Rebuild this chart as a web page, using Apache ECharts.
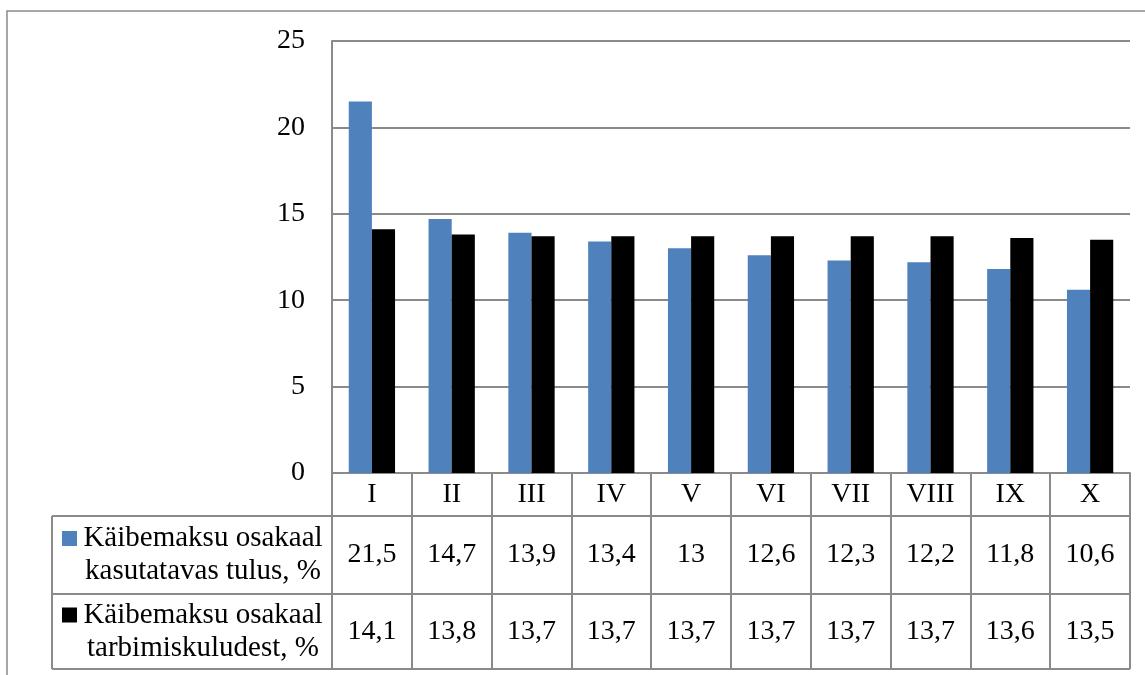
<!DOCTYPE html>
<html>
<head>
<meta charset="utf-8">
<script src="https://cdn.jsdelivr.net/npm/echarts@6/dist/echarts.min.js"></script>
<style>
  html, body { margin: 0; padding: 0; background: #fff; }
  #chart { width: 1145px; height: 675px; }
</style>
</head>
<body>
<div id="chart"></div>
<script>
// Deciles and VAT shares
const categories = ['I', 'II', 'III', 'IV', 'V', 'VI', 'VII', 'VIII', 'IX', 'X'];
const seriesNames = [
  'Käibemaksu osakaal\nkasutatavas tulus, %',
  'Käibemaksu osakaal\ntarbimiskuludest, %'
];
const shareOfIncome = [21.5, 14.7, 13.9, 13.4, 13.0, 12.6, 12.3, 12.2, 11.8, 10.6];
const shareOfConsumption = [14.1, 13.8, 13.7, 13.7, 13.7, 13.7, 13.7, 13.7, 13.6, 13.5];
const yTicks = { min: 0, max: 25, interval: 5 };

// Layout
const FONT = 'Liberation Serif, Times New Roman, serif';
const FS = 28;
const FS_HEAD = 29;
const LINE = '#8a8a8a';
const COLORS = ['#4F81BD', '#000000'];
const W = 1145, H = 675;
const GRID_L = 332, GRID_R = 1130, GRID_T = 41, AXIS_Y = 473;
const ROW_Y = [473, 516, 594, 669];   // table row boundaries
const TABLE_L = 52;

const fmt = v => String(v).replace('.', ',');
const rowCenter = i => (ROW_Y[i] + ROW_Y[i + 1]) / 2 - AXIS_Y;

// one extra category axis per table row carries the value cells
function valueAxis(values, rowIdx) {
  return {
    type: 'category',
    gridIndex: 0,
    position: 'bottom',
    offset: 0,
    data: values.map(fmt),
    axisLine: { show: false },
    axisTick: { show: false },
    axisLabel: {
      interval: 0,
      margin: rowCenter(rowIdx),
      verticalAlign: 'middle',
      fontFamily: FONT, fontSize: FS, color: '#000'
    }
  };
}

const graphics = [
  // outer chart frame
  { type: 'rect', shape: { x: 7, y: 11, width: W + 20, height: H + 20 },
    style: { fill: 'none', stroke: LINE, lineWidth: 1.5 }, silent: true },
  // table horizontal rules
  ...[1, 2, 3].map(i => ({
    type: 'line', shape: { x1: TABLE_L, y1: ROW_Y[i], x2: GRID_R, y2: ROW_Y[i] },
    style: { stroke: LINE, lineWidth: 2 }, silent: true })),
  // left edge of the row-header column
  { type: 'line', shape: { x1: TABLE_L, y1: ROW_Y[1], x2: TABLE_L, y2: ROW_Y[3] },
    style: { stroke: LINE, lineWidth: 2 }, silent: true }
];

// row headers with legend keys
seriesNames.forEach((name, i) => {
  const cy = (ROW_Y[i + 1] + ROW_Y[i + 2]) / 2;
  graphics.push({
    type: 'rect', shape: { x: 62, y: cy - 24, width: 15, height: 15 },
    style: { fill: COLORS[i] }, silent: true
  });
  graphics.push({
    type: 'text', x: 203, y: cy,
    style: { text: name, font: FS_HEAD + 'px ' + FONT, fill: '#000',
             align: 'center', verticalAlign: 'middle', lineHeight: 33 },
    silent: true
  });
});

const chart = echarts.init(document.getElementById('chart'), null, { renderer: 'canvas' });
chart.setOption({
  backgroundColor: '#fff',
  animation: false,
  grid: { left: GRID_L, right: W - GRID_R, top: GRID_T, bottom: H - AXIS_Y, containLabel: false },
  xAxis: [
    {
      type: 'category',
      data: categories,
      axisLine: { show: true, lineStyle: { color: LINE, width: 2 } },
      axisTick: { show: true, interval: 0, length: ROW_Y[3] - AXIS_Y,
                  lineStyle: { color: LINE, width: 2 } },
      axisLabel: {
        interval: 0, margin: rowCenter(0), verticalAlign: 'middle',
        fontFamily: FONT, fontSize: FS, color: '#000'
      }
    },
    valueAxis(shareOfIncome, 1),
    valueAxis(shareOfConsumption, 2)
  ],
  yAxis: {
    type: 'value',
    min: yTicks.min, max: yTicks.max, interval: yTicks.interval,
    axisLine: { show: true, lineStyle: { color: LINE, width: 2 } },
    axisTick: { show: false },
    splitLine: { show: true, lineStyle: { color: LINE, width: 2 } },
    axisLabel: { margin: 27, fontFamily: FONT, fontSize: FS, color: '#000' }
  },
  series: [
    { name: seriesNames[0], type: 'bar', data: shareOfIncome,
      itemStyle: { color: COLORS[0] }, barGap: '0%', barCategoryGap: '42%' },
    { name: seriesNames[1], type: 'bar', data: shareOfConsumption,
      itemStyle: { color: COLORS[1] }, barGap: '0%', barCategoryGap: '42%' }
  ],
  graphic: graphics
});
</script>
</body>
</html>
